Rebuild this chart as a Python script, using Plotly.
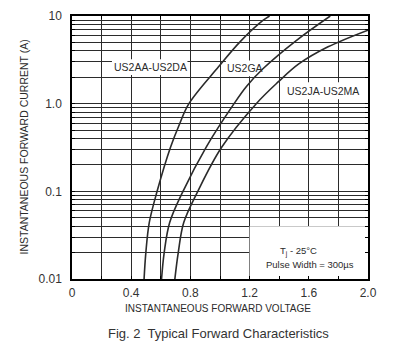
import plotly.graph_objects as go

# ---- data ----
v_us2aa = [0.487, 0.499, 0.522, 0.575, 0.665, 0.722, 0.79, 0.99, 1.135, 1.29, 1.335]
i_us2aa = [0.01, 0.02, 0.044, 0.1, 0.316, 0.56, 1.0, 2.63, 5.07, 8.9, 10]

v_us2ga = [0.605, 0.623, 0.66, 0.75, 0.905, 1.095, 1.18, 1.29, 1.515, 1.745]
i_us2ga = [0.01, 0.02, 0.044, 0.1, 0.316, 1.0, 1.58, 2.5, 5.25, 10]

v_us2ja = [0.695, 0.718, 0.755, 0.85, 1.01, 1.245, 1.395, 1.53, 1.73, 2.0]
i_us2ja = [0.01, 0.02, 0.044, 0.1, 0.316, 1.0, 1.78, 2.82, 4.45, 6.9]

series_names = ["US2AA-US2DA", "US2GA", "US2JA-US2MA"]

x_tickvals = [0, 0.2, 0.4, 0.6, 0.8, 1.0, 1.2, 1.4, 1.6, 1.8, 2.0]
x_ticktext = ["0", " ", "0.4", " ", "0.8", " ", "1.2", " ", "1.6", " ", "2.0"]

y_decades = [0.01, 0.1, 1.0]
y_decade_labels = ["0.01", "0.1", "1.0"]
y_top_label = "10"

FONT = "Liberation Sans, Arial, sans-serif"
INK = "#2b2b2b"

y_tickvals, y_ticktext = [], []
for d, lab in zip(y_decades, y_decade_labels):
    for k in range(1, 10):
        y_tickvals.append(d * k)
        y_ticktext.append(lab if k == 1 else " ")
y_tickvals.append(10)
y_ticktext.append(y_top_label)

fig = go.Figure()
for v, i, name in zip([v_us2aa, v_us2ga, v_us2ja], [i_us2aa, i_us2ga, i_us2ja], series_names):
    fig.add_trace(go.Scatter(x=v, y=i, mode="lines", name=name,
                             line=dict(color=INK, width=1.6, shape="spline", smoothing=1.0),
                             showlegend=False, hoverinfo="skip"))

# white background boxes (between grid and traces); shapes use data values on log axes
boxes = [
    (0.27, 0.78, 2.12, 3.22),    # US2AA-US2DA label
    (1.04, 1.30, 2.05, 3.10),    # US2GA label
    (1.44, 1.95, 1.12, 1.75),    # US2JA-US2MA label
    (1.2, 2.0, 0.01, 0.04),      # conditions box
]
for x0, x1, y0, y1 in boxes:
    fig.add_shape(type="rect", xref="x", yref="y", x0=x0, x1=x1, y0=y0, y1=y1,
                  fillcolor="white", line=dict(width=0), layer="between")

# annotations on log axis use log10 positions
annos = [
    ("US2AA-US2DA", 0.532, 0.422),
    ("US2GA", 1.169, 0.407),
    ("US2JA-US2MA", 1.693, 0.148),
]
for t, x, y in annos:
    fig.add_annotation(text=t, x=x, y=y, xref="x", yref="y", showarrow=False,
                       xanchor="center", yanchor="middle",
                       font=dict(family=FONT, size=10.5, color=INK))

fig.add_annotation(text="T<sub>j</sub> - 25°C", x=1.529, y=-1.688, xref="x", yref="y",
                   xanchor="center", yanchor="middle",
                   showarrow=False, font=dict(family=FONT, size=9.5, color=INK))
fig.add_annotation(text="Pulse Width = 300µs", x=1.608, y=-1.839, xref="x", yref="y",
                   xanchor="center", yanchor="middle",
                   showarrow=False, font=dict(family=FONT, size=9.5, color=INK))

fig.add_annotation(text="INSTANTANEOUS FORWARD VOLTAGE", x=0.493, y=-0.114, xref="paper", yref="paper",
                   xanchor="center", yanchor="middle",
                   showarrow=False, font=dict(family=FONT, size=10, color=INK))
fig.add_annotation(text="INSTANTANEOUS FORWARD CURRENT (A)", x=-0.1655, y=0.5, xref="paper", yref="paper",
                   xanchor="center", yanchor="middle",
                   textangle=-90, showarrow=False, font=dict(family=FONT, size=10.5, color=INK))
fig.add_annotation(text="Fig. 2  Typical Forward Characteristics", x=0.495, y=-0.209, xref="paper", yref="paper",
                   xanchor="center", yanchor="middle",
                   showarrow=False, font=dict(family=FONT, size=13, color="#333"))

fig.update_xaxes(range=[0, 2], tickvals=x_tickvals, ticktext=x_ticktext,
                 showgrid=True, gridcolor=INK, gridwidth=1.2,
                 showline=True, linecolor="black", linewidth=1.5, mirror="ticks",
                 ticks="inside", ticklen=3, tickcolor="black",
                 tickfont=dict(family=FONT, size=12, color="#333"),
                 zeroline=False, ticklabelstandoff=2, automargin=False)
fig.update_yaxes(type="log", range=[-2, 1], tickvals=y_tickvals, ticktext=y_ticktext,
                 showgrid=True, gridcolor=INK, gridwidth=1.2,
                 showline=True, linecolor="black", linewidth=1.5, mirror="ticks",
                 ticks="inside", ticklen=3, tickcolor="black",
                 tickfont=dict(family=FONT, size=12, color="#333"),
                 zeroline=False, ticklabelstandoff=6, automargin=False)

# page body adds an 8px offset; size the figure so the plot lands where the reference has it
fig.update_layout(width=397, height=350, margin=dict(l=64, r=37, t=8, b=79),
                  paper_bgcolor="white", plot_bgcolor="white", showlegend=False)

fig.write_html("out.html")
